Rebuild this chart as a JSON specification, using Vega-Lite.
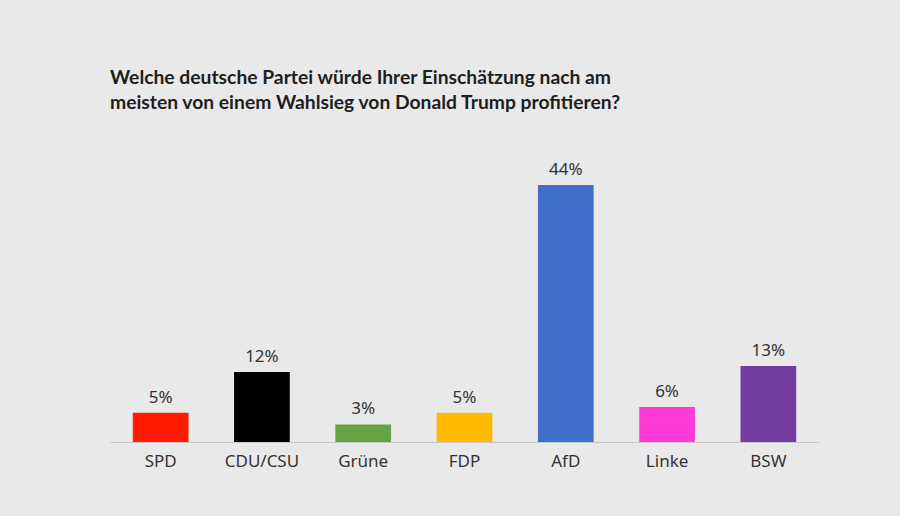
{
  "$schema": "https://vega.github.io/schema/vega-lite/v6.json",
  "autosize": {"type": "none"},
  "padding": {"left": 110, "top": 185, "right": 81, "bottom": 74},
  "width": 709,
  "height": 257,
  "background": "#e9e9e9",
  "title": {
    "text": ["Welche deutsche Partei würde Ihrer Einschätzung nach am", "meisten von einem Wahlsieg von Donald Trump profitieren?"],
    "anchor": "start",
    "frame": "group",
    "font": "Lato",
    "fontSize": 19.3,
    "fontWeight": "bold",
    "color": "#1e1e1e",
    "lineHeight": 25,
    "offset": 48
  },
  "data": {
    "values": [
      {"Partei": "SPD", "Wert": 5, "Farbe": "#ff1a00"},
      {"Partei": "CDU/CSU", "Wert": 12, "Farbe": "#000000"},
      {"Partei": "Grüne", "Wert": 3, "Farbe": "#65a345"},
      {"Partei": "FDP", "Wert": 5, "Farbe": "#ffbb00"},
      {"Partei": "AfD", "Wert": 44, "Farbe": "#3f6fc8"},
      {"Partei": "Linke", "Wert": 6, "Farbe": "#ff3ad9"},
      {"Partei": "BSW", "Wert": 13, "Farbe": "#733ca0"}
    ]
  },
  "transform": [{"calculate": "datum.Wert + '%'", "as": "Label"}],
  "encoding": {
    "x": {
      "field": "Partei",
      "type": "nominal",
      "sort": null,
      "scale": {"paddingInner": 0.45, "paddingOuter": 0.225},
      "axis": {
        "title": null,
        "labelAngle": 0,
        "ticks": false,
        "domainColor": "#c8c8c8",
        "domainWidth": 1,
        "labelPadding": 11,
        "labelFont": "Noto Sans",
        "labelFontSize": 17,
        "labelColor": "#333333"
      }
    },
    "y": {
      "field": "Wert",
      "type": "quantitative",
      "scale": {"domain": [0, 44]},
      "axis": null
    }
  },
  "layer": [
    {
      "mark": {"type": "bar"},
      "encoding": {
        "color": {"field": "Farbe", "type": "nominal", "scale": null}
      }
    },
    {
      "mark": {"type": "text", "dy": -15, "font": "Noto Sans", "fontSize": 17, "color": "#333333"},
      "encoding": {
        "text": {"field": "Label", "type": "nominal"}
      }
    }
  ],
  "config": {"view": {"stroke": null}}
}
